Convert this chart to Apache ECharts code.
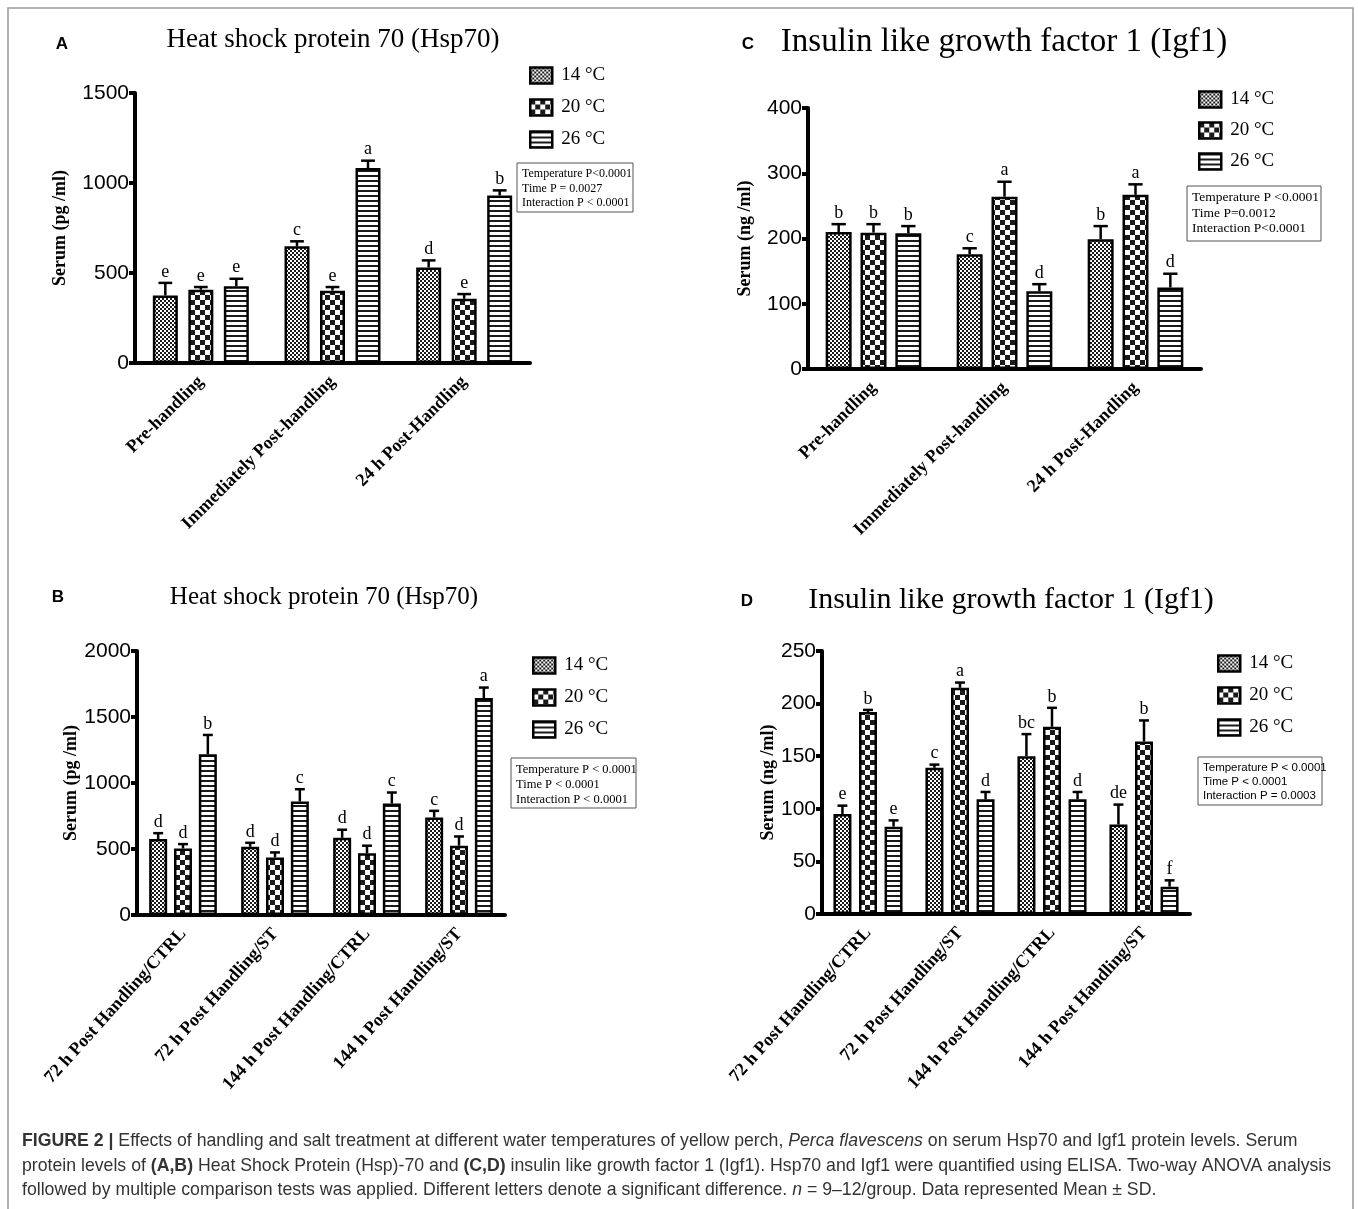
<!DOCTYPE html>
<html>
<head>
<meta charset="utf-8">
<script src="https://cdn.jsdelivr.net/npm/echarts@6/dist/echarts.min.js"></script>
<style>
html,body{margin:0;padding:0;background:#fff;}
#chart{width:1358px;height:1209px;}
</style>
</head>
<body>
<div id="chart"></div>
<script>
// ---------- DATA ----------
const tempNames = ['14 °C', '20 °C', '26 °C'];
const catAC = ['Pre-handling', 'Immediately Post-handling', '24 h Post-Handling'];
const catBD = ['72 h Post Handling/CTRL', '72 h Post Handling/ST', '144 h Post Handling/CTRL', '144 h Post Handling/ST'];

// Panel A: Hsp70 (pg/ml)
const hspA14 = [375, 648, 531];   const hspA14sd = [70, 28, 39];   const hspA14let = ['e', 'c', 'd'];
const hspA20 = [407, 402, 357];   const hspA20sd = [15, 20, 26];   const hspA20let = ['e', 'e', 'e'];
const hspA26 = [426, 1083, 931];  const hspA26sd = [42, 41, 28];   const hspA26let = ['e', 'a', 'b'];

// Panel C: Igf1 (ng/ml)
const igfC14 = [210, 176, 199];   const igfC14sd = [12, 9, 20];    const igfC14let = ['b', 'c', 'b'];
const igfC20 = [209, 264, 267];   const igfC20sd = [13, 23, 16];   const igfC20let = ['b', 'a', 'a'];
const igfC26 = [208, 119, 125];   const igfC26sd = [11, 11, 21];   const igfC26let = ['b', 'd', 'd'];

// Panel B: Hsp70 (pg/ml)
const hspB14 = [575, 517, 585, 739];   const hspB14sd = [45, 30, 61, 50];   const hspB14let = ['d', 'd', 'd', 'c'];
const hspB20 = [504, 436, 467, 525];   const hspB20sd = [33, 38, 58, 70];   const hspB20let = ['d', 'd', 'd', 'd'];
const hspB26 = [1218, 860, 845, 1644]; const hspB26sd = [146, 93, 83, 79];  const hspB26let = ['b', 'c', 'c', 'a'];

// Panel D: Igf1 (ng/ml)
const igfD14 = [95, 139, 150, 85];   const igfD14sd = [8, 3, 21, 19];  const igfD14let = ['e', 'c', 'bc', 'de'];
const igfD20 = [192, 215, 178, 164]; const igfD20sd = [2, 5, 18, 20];  const igfD20let = ['b', 'a', 'b', 'b'];
const igfD26 = [83, 109, 109, 26];   const igfD26sd = [6, 7, 7, 6];    const igfD26let = ['e', 'd', 'd', 'f'];

const statsA = 'Temperature P<0.0001\nTime P = 0.0027\nInteraction P < 0.0001';
const statsC = 'Temperature P <0.0001\nTime P=0.0012\nInteraction P<0.0001';
const statsB = 'Temperature P < 0.0001\nTime P < 0.0001\nInteraction P < 0.0001';
const statsD = 'Temperature P < 0.0001\nTime P < 0.0001\nInteraction P = 0.0003';

// ---------- PATTERNS ----------
function makeTile(w, h, draw) {
  const c = document.createElement('canvas');
  c.width = w; c.height = h;
  const ctx = c.getContext('2d');
  ctx.fillStyle = '#fff'; ctx.fillRect(0, 0, w, h);
  ctx.fillStyle = '#1a1a1a';
  draw(ctx);
  return c;
}
const pat14 = makeTile(4, 4, ctx => { ctx.fillRect(0, 0, 2, 2); ctx.fillRect(2, 2, 2, 2); });
const pat20 = makeTile(10, 10, ctx => { ctx.fillRect(0, 0, 5, 5); ctx.fillRect(5, 5, 5, 5); });
const pat26 = makeTile(4, 5, ctx => { ctx.fillRect(0, 0, 4, 2); });
const patterns = [
  { image: pat14, repeat: 'repeat' },
  { image: pat20, repeat: 'repeat' },
  { image: pat26, repeat: 'repeat' }
];

// ---------- LAYOUT ----------
const SERIF = '"Liberation Serif", "Times New Roman", serif';
const SANS = '"Liberation Sans", Arial, sans-serif';

const panels = [
  { key: 'A', cats: catAC, grid: { left: 135, top: 93, width: 395, height: 270 }, max: 1500, interval: 500, yName: 'Serum (pg /ml)', nameGap: 66,
    barW: 25, gap: 0.42, rot: 45, means: [hspA14, hspA20, hspA26], sds: [hspA14sd, hspA20sd, hspA26sd], lets: [hspA14let, hspA20let, hspA26let],
    legend: { left: 524, top: 61, gap: 13 } },
  { key: 'C', cats: catAC, grid: { left: 808, top: 108, width: 393, height: 261 }, max: 400, interval: 100, yName: 'Serum (ng /ml)', nameGap: 54,
    barW: 26, gap: 0.34, rot: 45, means: [igfC14, igfC20, igfC26], sds: [igfC14sd, igfC20sd, igfC26sd], lets: [igfC14let, igfC20let, igfC26let],
    legend: { left: 1193, top: 85, gap: 12 } },
  { key: 'B', cats: catBD, grid: { left: 137, top: 651, width: 368, height: 264 }, max: 2000, interval: 500, yName: 'Serum (pg /ml)', nameGap: 49,
    barW: 18, gap: 0.38, rot: 48, means: [hspB14, hspB20, hspB26], sds: [hspB14sd, hspB20sd, hspB26sd], lets: [hspB14let, hspB20let, hspB26let],
    legend: { left: 527, top: 651, gap: 13 } },
  { key: 'D', cats: catBD, grid: { left: 822, top: 651, width: 368, height: 263 }, max: 250, interval: 50, yName: 'Serum (ng /ml)', nameGap: 31,
    barW: 18, gap: 0.42, rot: 48, means: [igfD14, igfD20, igfD26], sds: [igfD14sd, igfD20sd, igfD26sd], lets: [igfD14let, igfD20let, igfD26let],
    legend: { left: 1212, top: 649, gap: 13 } }
];

const grids = [], xAxes = [], yAxes = [], series = [], legends = [];

panels.forEach((p, pi) => {
  grids.push(Object.assign({ containLabel: false }, p.grid));
  xAxes.push({
    type: 'category', gridIndex: pi, data: p.cats, boundaryGap: true,
    axisLine: { lineStyle: { color: '#000', width: 4 } },
    axisTick: { alignWithLabel: true, length: 7, lineStyle: { color: '#000', width: 4 } },
    axisLabel: { rotate: p.rot, margin: 16, color: '#000', fontFamily: SERIF, fontWeight: 'bold', fontSize: 18, interval: 0 },
    splitLine: { show: false }
  });
  yAxes.push({
    type: 'value', gridIndex: pi, min: 0, max: p.max, interval: p.interval,
    name: p.yName, nameLocation: 'middle', nameRotate: 90, nameGap: p.nameGap,
    nameTextStyle: { fontFamily: SERIF, fontWeight: 'bold', fontSize: 18, color: '#000' },
    axisLine: { show: true, lineStyle: { color: '#000', width: 4 } },
    axisTick: { show: true, length: 6, lineStyle: { color: '#000', width: 4 } },
    axisLabel: { margin: 6, color: '#000', fontFamily: SANS, fontSize: 21, formatter: v => String(v) },
    splitLine: { show: false }
  });
  for (let i = 0; i < 3; i++) {
    series.push({
      type: 'bar', name: tempNames[i], xAxisIndex: pi, yAxisIndex: pi,
      data: p.means[i], barWidth: p.barW, barGap: (p.gap * 100) + '%',
      itemStyle: { color: patterns[i], borderColor: '#000', borderWidth: 2.5 },
      emphasis: { disabled: true }, z: 2
    });
  }
  for (let i = 0; i < 3; i++) {
    const lets = p.lets[i];
    const off = (i - 1) * p.barW * (1 + p.gap);
    const capW = p.barW * 0.55;
    series.push({
      type: 'custom', name: 'err' + p.key + i, xAxisIndex: pi, yAxisIndex: pi, z: 5,
      data: p.means[i].map((m, k) => [k, m, p.sds[i][k]]),
      renderItem: function (params, api) {
        const c = api.value(0), m = api.value(1), s = api.value(2);
        const p0 = api.coord([c, m]);
        const p1 = api.coord([c, m + s]);
        const x = p0[0] + off;
        return {
          type: 'group', children: [
            { type: 'line', shape: { x1: x, y1: p0[1], x2: x, y2: p1[1] }, style: { stroke: '#000', lineWidth: 2.5 } },
            { type: 'line', shape: { x1: x - capW / 2, y1: p1[1], x2: x + capW / 2, y2: p1[1] }, style: { stroke: '#000', lineWidth: 2.5 } },
            { type: 'text', style: { text: lets[params.dataIndex], x: x, y: p1[1] - 2, align: 'center', verticalAlign: 'bottom',
              font: '18px ' + SERIF, fill: '#000' } }
          ]
        };
      }
    });
  }
  legends.push({
    left: p.legend.left, top: p.legend.top, orient: 'vertical', icon: 'rect',
    itemWidth: 22, itemHeight: 16, itemGap: p.legend.gap, selectedMode: false,
    data: tempNames,
    itemStyle: { borderColor: '#000', borderWidth: 2.5 },
    textStyle: { fontFamily: SERIF, fontSize: 19, color: '#000', padding: [0, 0, 0, 4] }
  });
});

function statBox(x, y, w, h, text, font, lh) {
  return {
    type: 'group', x: x, y: y, children: [
      { type: 'rect', shape: { x: 0, y: 0, width: w, height: h }, style: { fill: '#fff', stroke: '#555', lineWidth: 1 } },
      { type: 'text', x: 5, y: 4, style: { text: text, font: font, fill: '#000', lineHeight: lh, verticalAlign: 'top' } }
    ]
  };
}

const CAPSIZE = 17.7;
const capRich = {
  b: { fontFamily: SANS, fontSize: CAPSIZE, fontWeight: 'bold', color: '#222' },
  i: { fontFamily: SANS, fontSize: CAPSIZE, fontStyle: 'italic', color: '#333' }
};
function capLine(y, text) {
  return { type: 'text', x: 22, y: y, style: { text: text, font: CAPSIZE + 'px ' + SANS, fill: '#333', verticalAlign: 'middle', rich: capRich } };
}

const graphics = [
  { type: 'rect', shape: { x: 8, y: 8, width: 1345, height: 1230 }, style: { fill: 'none', stroke: '#999', lineWidth: 1.5 }, silent: true },
  { type: 'text', x: 62, y: 44, style: { text: 'A', font: 'bold 17px ' + SANS, fill: '#000', align: 'center', verticalAlign: 'middle' } },
  { type: 'text', x: 748, y: 44, style: { text: 'C', font: 'bold 17px ' + SANS, fill: '#000', align: 'center', verticalAlign: 'middle' } },
  { type: 'text', x: 58, y: 597, style: { text: 'B', font: 'bold 17px ' + SANS, fill: '#000', align: 'center', verticalAlign: 'middle' } },
  { type: 'text', x: 747, y: 601, style: { text: 'D', font: 'bold 17px ' + SANS, fill: '#000', align: 'center', verticalAlign: 'middle' } },
  { type: 'text', x: 333, y: 40, style: { text: 'Heat shock protein 70 (Hsp70)', font: '27px ' + SERIF, fill: '#000', align: 'center', verticalAlign: 'middle' } },
  { type: 'text', x: 1004, y: 42, style: { text: 'Insulin like growth factor 1 (Igf1)', font: '33px ' + SERIF, fill: '#000', align: 'center', verticalAlign: 'middle' } },
  { type: 'text', x: 324, y: 597, style: { text: 'Heat shock protein 70 (Hsp70)', font: '25px ' + SERIF, fill: '#000', align: 'center', verticalAlign: 'middle' } },
  { type: 'text', x: 1011, y: 600, style: { text: 'Insulin like growth factor 1 (Igf1)', font: '30px ' + SERIF, fill: '#000', align: 'center', verticalAlign: 'middle' } },
  statBox(517, 163, 116, 49, statsA, '12px ' + SERIF, 14.5),
  statBox(1187, 186, 134, 55, statsC, '13.5px ' + SERIF, 15.5),
  statBox(511, 758, 125, 50, statsB, '12.5px ' + SERIF, 15),
  statBox(1198, 757, 124, 48, statsD, '11.5px ' + SANS, 14),
  capLine(1141, '{b|FIGURE 2 |} Effects of handling and salt treatment at different water temperatures of yellow perch, {i|Perca flavescens} on serum Hsp70 and Igf1 protein levels. Serum'),
  capLine(1166, 'protein levels of {b|(A,B)} Heat Shock Protein (Hsp)-70 and {b|(C,D)} insulin like growth factor 1 (Igf1). Hsp70 and Igf1 were quantified using ELISA. Two-way ANOVA analysis'),
  capLine(1190, 'followed by multiple comparison tests was applied. Different letters denote a significant difference. {i|n} = 9–12/group. Data represented Mean ± SD.')
];

const chart = echarts.init(document.getElementById('chart'), null, { renderer: 'canvas' });
chart.setOption({
  backgroundColor: '#fff',
  animation: false,
  grid: grids,
  xAxis: xAxes,
  yAxis: yAxes,
  legend: legends,
  series: series,
  graphic: graphics
});
</script>
</body>
</html>
